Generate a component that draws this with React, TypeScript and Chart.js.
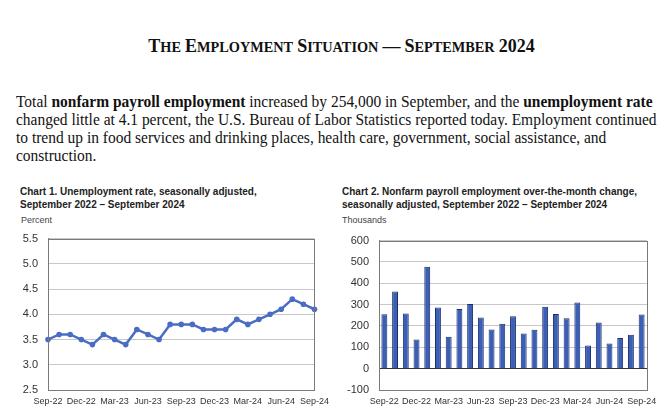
import React, { useEffect, useRef } from "react";
import { Chart, registerables } from "chart.js";

Chart.register(...registerables);

const months = [
  "Sep-22", "Oct-22", "Nov-22", "Dec-22", "Jan-23", "Feb-23", "Mar-23", "Apr-23", "May-23",
  "Jun-23", "Jul-23", "Aug-23", "Sep-23", "Oct-23", "Nov-23", "Dec-23", "Jan-24", "Feb-24",
  "Mar-24", "Apr-24", "May-24", "Jun-24", "Jul-24", "Aug-24", "Sep-24",
];
const unemploymentRate = [
  3.5, 3.6, 3.6, 3.5, 3.4, 3.6, 3.5, 3.4, 3.7, 3.6, 3.5, 3.8, 3.8, 3.8, 3.7, 3.7, 3.7, 3.9,
  3.8, 3.9, 4.0, 4.1, 4.3, 4.2, 4.1,
];
const payrollChange = [
  255, 362, 258, 137, 478, 287, 149, 280, 303, 240, 184, 210, 246, 165, 182, 290, 256, 236,
  310, 108, 216, 118, 144, 159, 254,
];

const chart1Title = ["Chart 1. Unemployment rate, seasonally adjusted,", "September 2022 \u2013 September 2024"];
const chart2Title = [
  "Chart 2. Nonfarm payroll employment over-the-month change,",
  "seasonally adjusted, September 2022 \u2013 September 2024",
];
const headline = "The Employment Situation \u2014 September 2024";

const LINE_BLUE = "#4a6cc4";
const BAR_BLUE = "#3b5fb6";
const BAR_EDGE = "#1c2f6b";
const FONT = "'Liberation Sans', Arial, sans-serif";

const framePlugin = {
  id: "frame",
  afterDraw(chart: any) {
    const { ctx, chartArea } = chart;
    ctx.save();
    ctx.strokeStyle = "#7a7a7a";
    ctx.lineWidth = 1;
    ctx.strokeRect(
      Math.round(chartArea.left) + 0.5,
      Math.round(chartArea.top) + 0.5,
      Math.round(chartArea.right - chartArea.left),
      Math.round(chartArea.bottom - chartArea.top)
    );
    ctx.restore();
  },
};

function LineChart() {
  const ref = useRef<HTMLCanvasElement>(null);
  useEffect(() => {
    const chart = new Chart(ref.current!, {
      type: "line",
      data: {
        labels: months,
        datasets: [
          {
            data: unemploymentRate,
            borderColor: LINE_BLUE,
            backgroundColor: LINE_BLUE,
            borderWidth: 2.5,
            pointRadius: 2.8,
            pointBorderWidth: 0,
            tension: 0,
          },
        ],
      },
      options: {
        animation: false,
        responsive: false,
        layout: { padding: { left: 0, top: 0, right: 19, bottom: 0 } },
        plugins: { legend: { display: false }, tooltip: { enabled: false } },
        scales: {
          x: {
            offset: false,
            grid: { display: false, drawTicks: false },
            border: { color: "#7a7a7a" },
            ticks: {
              autoSkip: false,
              maxRotation: 0,
              padding: 6,
              color: "#333",
              font: { family: FONT, size: 9 },
              callback: (_v: any, i: number) => (i % 3 === 0 ? months[i] : ""),
            },
            afterFit: (s: any) => {
              s.height = 29;
            },
          },
          y: {
            min: 2.5,
            max: 5.5,
            grid: { color: "#c8c8c8", drawTicks: false },
            border: { color: "#7a7a7a" },
            ticks: {
              stepSize: 0.5,
              padding: 10,
              color: "#333",
              font: { family: FONT, size: 11 },
              callback: (v: any) => Number(v).toFixed(1),
            },
            afterFit: (s: any) => {
              s.width = 48;
            },
          },
        },
      },
      plugins: [framePlugin],
    });
    return () => chart.destroy();
  }, []);
  return <canvas ref={ref} width={335} height={197} style={{ position: "absolute", left: 0, top: 222 }} />;
}

function BarChart() {
  const ref = useRef<HTMLCanvasElement>(null);
  useEffect(() => {
    const chart = new Chart(ref.current!, {
      type: "bar",
      data: {
        labels: months,
        datasets: [
          {
            data: payrollChange,
            backgroundColor: BAR_BLUE,
            borderColor: BAR_EDGE,
            borderWidth: 1,
            barPercentage: 0.55,
            categoryPercentage: 1,
          },
        ],
      },
      options: {
        animation: false,
        responsive: false,
        layout: { padding: { left: 0, top: 0, right: 23, bottom: 0 } },
        plugins: { legend: { display: false }, tooltip: { enabled: false } },
        scales: {
          x: {
            offset: true,
            grid: { display: false, drawTicks: false },
            border: { color: "#7a7a7a" },
            ticks: {
              autoSkip: false,
              maxRotation: 0,
              padding: 6,
              color: "#333",
              font: { family: FONT, size: 9 },
              callback: (_v: any, i: number) => (i % 3 === 0 ? months[i] : ""),
            },
            afterFit: (s: any) => {
              s.height = 29;
            },
          },
          y: {
            min: -100,
            max: 600,
            grid: {
              color: (c: any) => (c.tick && c.tick.value === 0 ? "#333" : "#c8c8c8"),
              drawTicks: false,
            },
            border: { color: "#7a7a7a" },
            ticks: {
              stepSize: 100,
              padding: 10,
              color: "#333",
              font: { family: FONT, size: 11 },
            },
            afterFit: (s: any) => {
              s.width = 44;
            },
          },
        },
      },
      plugins: [framePlugin],
    });
    return () => chart.destroy();
  }, []);
  return <canvas ref={ref} width={335} height={195} style={{ position: "absolute", left: 335, top: 224 }} />;
}

const serif = "'Liberation Serif', 'Times New Roman', serif";

function SmallCaps({ text, big, small }: { text: string; big: number; small: number }) {
  const words = text.split(" ");
  return (
    <>
      {words.map((w, i) => {
        const first = w.charAt(0);
        const rest = w.slice(1);
        return (
          <React.Fragment key={i}>
            {i > 0 ? " " : ""}
            <span style={{ fontSize: big }}>{first.toUpperCase()}</span>
            {rest && (
              <span style={{ fontSize: /^[0-9]+$/.test(rest) ? big : small }}>{rest.toUpperCase()}</span>
            )}
          </React.Fragment>
        );
      })}
    </>
  );
}

export default function App() {
  const lineStyle: React.CSSProperties = { whiteSpace: "nowrap", height: 18, lineHeight: "18px" };
  return (
    <div
      style={{
        position: "fixed",
        left: 0,
        top: 0,
        width: 670,
        height: 419,
        background: "#fff",
        overflow: "hidden",
        color: "#111",
      }}
    >
      <div
        style={{
          position: "absolute",
          left: 0,
          width: 683,
          top: 35,
          textAlign: "center",
          fontFamily: serif,
          fontWeight: "bold",
          lineHeight: "22px",
          whiteSpace: "nowrap",
        }}
      >
        <SmallCaps text={headline} big={18} small={14.3} />
      </div>
      <div
        style={{
          position: "absolute",
          left: 16,
          top: 93,
          fontFamily: serif,
          fontSize: 16,
          transform: "scaleX(0.967)",
          transformOrigin: "0 0",
        }}
      >
        <div style={lineStyle}>
          Total <b>nonfarm payroll employment</b> increased by 254,000 in September, and the{" "}
          <b>unemployment rate</b>
        </div>
        <div style={lineStyle}>
          changed little at 4.1 percent, the U.S. Bureau of Labor Statistics reported today. Employment continued
        </div>
        <div style={lineStyle}>
          to trend up in food services and drinking places, health care, government, social assistance, and
        </div>
        <div style={lineStyle}>construction.</div>
      </div>

      <div
        style={{
          position: "absolute",
          left: 20,
          top: 185,
          fontFamily: FONT,
          fontWeight: "bold",
          fontSize: 10,
          lineHeight: "13px",
          color: "#222",
        }}
      >
        <div>{chart1Title[0]}</div>
        <div>{chart1Title[1]}</div>
      </div>
      <div style={{ position: "absolute", left: 21, top: 215, fontFamily: FONT, fontSize: 9, color: "#444" }}>
        Percent
      </div>

      <div
        style={{
          position: "absolute",
          left: 342,
          top: 185,
          fontFamily: FONT,
          fontWeight: "bold",
          fontSize: 10,
          lineHeight: "13px",
          color: "#222",
        }}
      >
        <div>{chart2Title[0]}</div>
        <div>{chart2Title[1]}</div>
      </div>
      <div style={{ position: "absolute", left: 342, top: 215, fontFamily: FONT, fontSize: 9, color: "#444" }}>
        Thousands
      </div>

      <LineChart />
      <BarChart />
    </div>
  );
}
